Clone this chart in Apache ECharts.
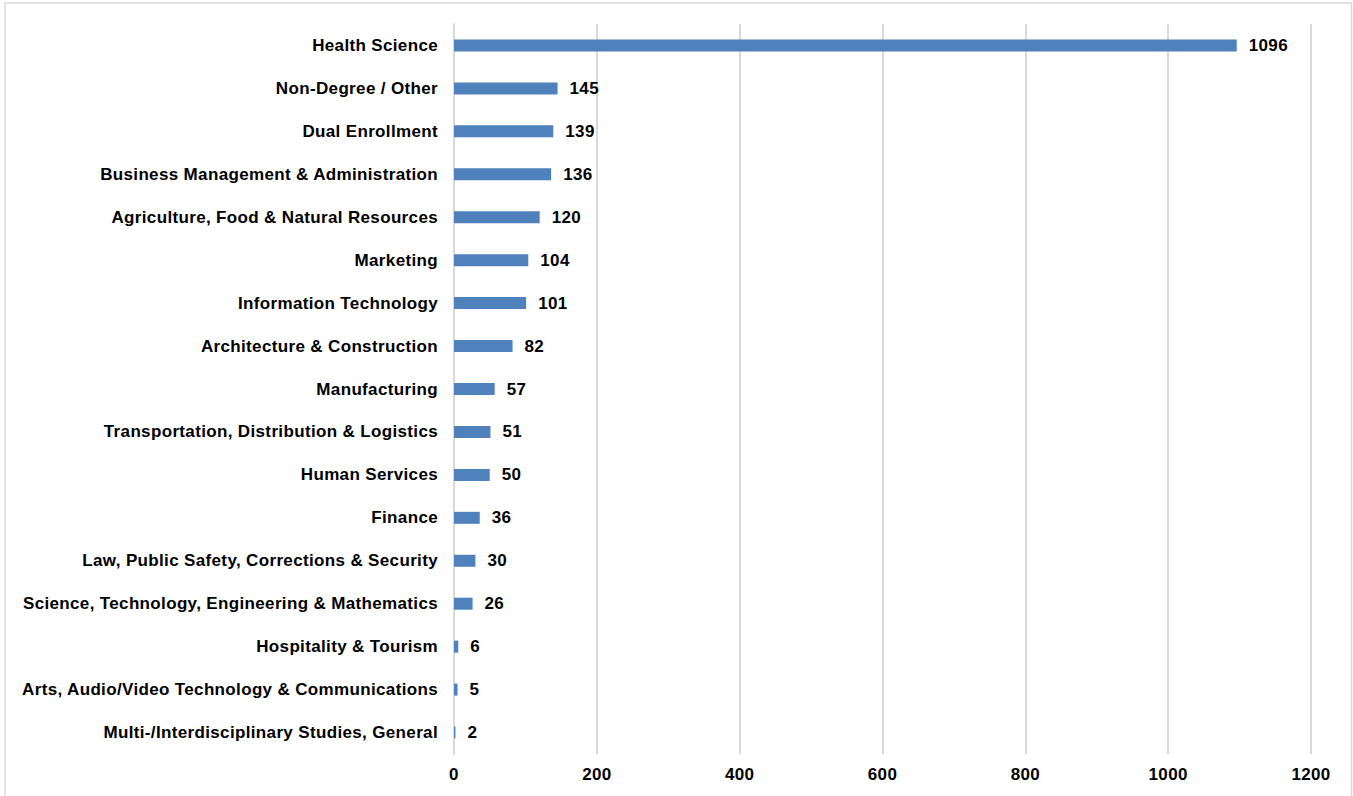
<!DOCTYPE html>
<html>
<head>
<meta charset="utf-8">
<script src="https://cdn.jsdelivr.net/npm/echarts@6/dist/echarts.min.js"></script>
<style>
html,body{margin:0;padding:0;background:#fff;}
#chart{width:1353px;height:796px;}
#chart svg text{letter-spacing:0.35px;}
</style>
</head>
<body>
<div id="chart"></div>
<script>
var categories = [
  "Health Science",
  "Non-Degree / Other",
  "Dual Enrollment",
  "Business Management & Administration",
  "Agriculture, Food & Natural Resources",
  "Marketing",
  "Information Technology",
  "Architecture & Construction",
  "Manufacturing",
  "Transportation, Distribution & Logistics",
  "Human Services",
  "Finance",
  "Law, Public Safety, Corrections & Security",
  "Science, Technology, Engineering & Mathematics",
  "Hospitality & Tourism",
  "Arts, Audio/Video Technology & Communications",
  "Multi-/Interdisciplinary Studies, General"
];
var values = [1096, 145, 139, 136, 120, 104, 101, 82, 57, 51, 50, 36, 30, 26, 6, 5, 2];
var xTicks = { min: 0, max: 1200, interval: 200 };

var chart = echarts.init(document.getElementById('chart'), null, { renderer: 'svg' });
var font = 'Liberation Sans, Arial, sans-serif';
chart.setOption({
  animation: false,
  backgroundColor: '#ffffff',
  graphic: [{
    type: 'rect',
    shape: { x: 5, y: 3, width: 1346.5, height: 800 },
    style: { fill: 'none', stroke: '#d9d9d9', lineWidth: 1.5 },
    silent: true
  }],
  grid: { left: 454, right: 42, top: 24, bottom: 42, containLabel: false },
  xAxis: {
    type: 'value',
    min: xTicks.min, max: xTicks.max, interval: xTicks.interval,
    axisLine: { show: false },
    axisTick: { show: false },
    splitLine: { show: true, lineStyle: { color: '#d9d9d9', width: 2 } },
    axisLabel: {
      color: '#000', fontFamily: font, fontWeight: 'bold', fontSize: 17, margin: 12,
      formatter: function (v) { return String(v); }
    }
  },
  yAxis: {
    type: 'category',
    inverse: true,
    data: categories,
    axisLine: { show: true, lineStyle: { color: '#d9d9d9', width: 2 } },
    axisTick: { show: false },
    axisLabel: { color: '#000', fontFamily: font, fontWeight: 'bold', fontSize: 17, margin: 16 }
  },
  series: [{
    type: 'bar',
    data: values,
    barWidth: 12,
    itemStyle: { color: '#4F81BD' },
    label: {
      show: true, position: 'right', distance: 12,
      color: '#000', fontFamily: font, fontWeight: 'bold', fontSize: 17
    }
  }]
});
</script>
</body>
</html>
